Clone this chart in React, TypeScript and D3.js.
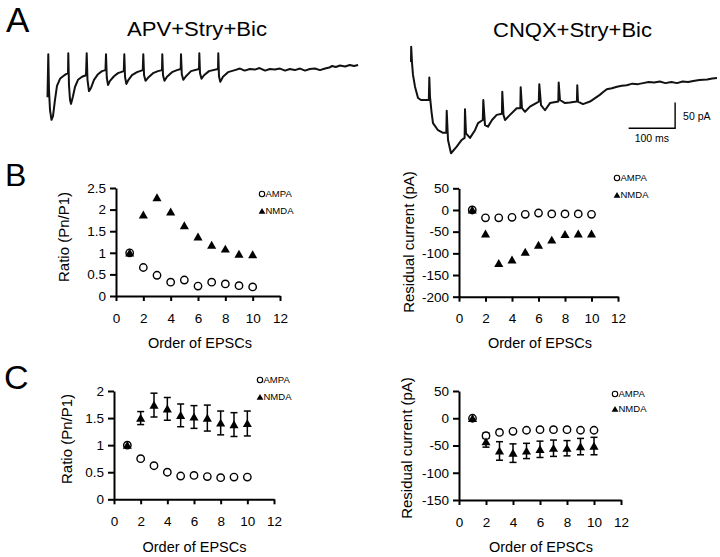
import React, { Component, createRef } from 'react';
import * as d3 from 'd3';

const FONT = '"Liberation Sans", Arial, Helvetica, sans-serif';

// order of EPSCs in the train
const epscOrder = [1, 2, 3, 4, 5, 6, 7, 8, 9, 10];
const xTicks = [0, 2, 4, 6, 8, 10, 12];
const ratioTicksB = [0, 0.5, 1, 1.5, 2, 2.5];
const currentTicksB = [-200, -150, -100, -50, 0, 50];
const ratioTicksC = [0, 0.5, 1, 1.5, 2];
const currentTicksC = [-150, -100, -50, 0, 50];

// B: example cell
const ratioAmpaB = [1.0, 0.66, 0.48, 0.32, 0.37, 0.23, 0.32, 0.28, 0.24, 0.21];
const ratioNmdaB = [1.0, 1.88, 2.28, 1.95, 1.63, 1.37, 1.18, 1.09, 0.97, 0.96];
const residAmpaB = [0, -18, -18, -17, -10, -7, -9, -9, -9, -10];
const residNmdaB = [0, -55, -123, -115, -97, -81, -69, -56, -55, -55];

// C: mean +/- SEM
const ratioAmpaC = [1.0, 0.75, 0.62, 0.5, 0.43, 0.44, 0.42, 0.4, 0.41, 0.41];
const ratioNmdaC = [1.0, 1.5, 1.74, 1.67, 1.55, 1.52, 1.5, 1.41, 1.38, 1.4];
const ratioNmdaCErr = [0, 0.12, 0.22, 0.21, 0.21, 0.21, 0.24, 0.22, 0.22, 0.23];
const residAmpaC = [0, -32, -26, -24, -22, -21, -21, -21, -22, -22];
const residAmpaCErr = [0, 5, 0, 0, 0, 0, 0, 0, 0, 0];
const residNmdaC = [0, -43, -60, -64, -60, -57, -55, -55, -52, -51];
const residNmdaCErr = [0, 10, 17, 17, 14, 15, 15, 14, 15, 16];

// A: traces, time (ms) and current (pA)
const apvTraceMs = [
  0, 1.7, 3.2, 5.4, 8.6, 11.8, 16.1, 20.4, 26.9, 33.3, 39.8, 44.1,
  44.7, 46.2, 48.4, 50.5, 54.8, 59.1, 65.6, 74.2, 82.8,
  84.3, 86, 89.2, 93.5, 100, 108.6, 117.2, 124.7,
  125.8, 127.5, 130.1, 134.4, 143, 151.6, 164.1,
  165.2, 166.7, 169.5, 174.2, 181.7, 192.5, 204.9,
  206, 207.7, 210.8, 216.1, 226.9, 237.6, 246.2,
  246.9, 248.4, 251.6, 257, 267.7, 278.5, 286.5,
  287.1, 288.8, 292, 297.8, 308.6, 325.8,
  326.5, 328, 331.2, 336.6, 347.3, 366.7,
  367.3, 368.8, 371.6, 377.4, 388.2, 403, 414, 424, 435, 446, 456, 468, 478,
  489, 500, 511, 521, 532, 543, 554, 564, 575, 586, 597, 606, 612, 620, 629,
  640, 650, 659, 668
];
const apvTracePa = [
  -61, 23, -47, -86, -105, -98, -66, -39, -25, -20, -16, -14,
  25, -37, -66, -74, -59, -41, -27, -21, -18,
  25, -27, -49, -43, -27, -16, -10, -8,
  23, -23, -37, -29, -20, -14, -10,
  23, -21, -35, -27, -18, -12, -8,
  23, -18, -29, -23, -14, -10, -8,
  23, -18, -29, -21, -12, -8, -6,
  23, -16, -27, -20, -10, -6,
  25, -14, -25, -18, -10, -6,
  25, -20, -31, -21, -12, -8, -5, -9, -6, -7, -4, -9, -6,
  -7, -5, -9, -6, -8, -5, -9, -6, -5, -8, -5, -3, 0, -2, 1,
  -1, 2, 0, 2
];
const cnqxTraceMs = [
  0, 0.4, 2.2, 4.3, 8.6, 15.1, 21.5, 30.1, 38.3,
  39.4, 40.9, 44.1, 47.3, 58.1, 68.8, 75.9,
  76.8, 79.6, 86, 98.3, 109, 115.3,
  116.1, 118.3, 126.9, 137.6, 144.1, 154.4,
  155.5, 159.1, 165.6, 174.2, 184.3, 195.5,
  196.3, 198.9, 202.2, 212.9, 227.3, 235.1,
  235.9, 238.7, 245.2, 255.9, 274.8,
  275.9, 279.6, 288.2, 298.9, 316.8,
  317.6, 320.4, 331.2, 341.9, 356.8,
  357.6, 359.1, 369.9, 384.9, 406, 414, 421, 432, 443, 453, 464, 476,
  488, 499, 511, 523, 535, 547, 560, 572, 584, 596, 607, 620, 637, 648, 658
];
const cnqxTracePa = [
  31, 61, 29, 6, -17, -39, -43, -43, -43,
  1, -37, -66, -88, -102, -107, -107,
  -64, -121, -147, -134, -121, -117,
  -61, -108, -117, -102, -88, -82,
  -43, -92, -95, -82, -72, -70,
  -27, -72, -82, -72, -59, -59,
  -18, -59, -66, -56, -46,
  -12, -53, -63, -49, -46,
  -9, -43, -49, -48, -46,
  -14, -46, -51, -46, -33, -27, -22, -20, -17, -15, -14, -11,
  -12, -10, -8, -9, -7, -10, -8, -10, -7, -8, -6, -4, -3, -1, 0
];
const scaleBarMs = 100;
const scaleBarPa = 50;
const scaleBarCornerMs = 568;
const scaleBarCornerPa = -98;

interface IPanel {
  xRange: [number, number];
  yRange: [number, number];
  yDomain: [number, number];
  yTicks: number[];
  yLabel: string;
  yLabelPos: [number, number];
  xLabelPos: [number, number];
  legendPos: [number, number];
  legendGap: number;
  ampa: number[];
  ampaErr?: number[];
  nmda: number[];
  nmdaErr?: number[];
}

const panels: IPanel[] = [
  {
    xRange: [116, 280], yRange: [296, 188], yDomain: [0, 2.5], yTicks: ratioTicksB,
    yLabel: 'Ratio (Pn/P1)', yLabelPos: [69, 237], xLabelPos: [200, 348],
    legendPos: [262, 194], legendGap: 17, ampa: ratioAmpaB, nmda: ratioNmdaB
  },
  {
    xRange: [459, 618], yRange: [296.7, 188.3], yDomain: [-200, 50], yTicks: currentTicksB,
    yLabel: 'Residual current (pA)', yLabelPos: [413.5, 242], xLabelPos: [540, 348],
    legendPos: [617, 178], legendGap: 17, ampa: residAmpaB, nmda: residNmdaB
  },
  {
    xRange: [114, 274], yRange: [499.3, 391], yDomain: [0, 2], yTicks: ratioTicksC,
    yLabel: 'Ratio (Pn/P1)', yLabelPos: [72, 439], xLabelPos: [194.5, 552],
    legendPos: [260, 380], legendGap: 17, ampa: ratioAmpaC, nmda: ratioNmdaC, nmdaErr: ratioNmdaCErr
  },
  {
    xRange: [459, 621], yRange: [500, 391], yDomain: [-150, 50], yTicks: currentTicksC,
    yLabel: 'Residual current (pA)', yLabelPos: [412, 448], xLabelPos: [541, 552],
    legendPos: [615, 394], legendGap: 15, ampa: residAmpaC, ampaErr: residAmpaCErr,
    nmda: residNmdaC, nmdaErr: residNmdaCErr
  }
];

const MS_PX = 0.465;
const PA_PX = 0.512;

class App extends Component {
  svgRef = createRef<SVGSVGElement>();

  componentDidMount() {
    this.draw();
  }

  drawErrors(g: any, x: any, y: any, vals: number[], errs: number[]) {
    const bars = g.append('g').attr('stroke', '#000').attr('stroke-width', 1.5);
    vals.forEach((v, i) => {
      const e = errs[i];
      if (!e) { return; }
      const cx = x(epscOrder[i]);
      bars.append('line').attr('x1', cx).attr('x2', cx).attr('y1', y(v - e)).attr('y2', y(v + e));
      bars.append('line').attr('x1', cx - 3.5).attr('x2', cx + 3.5).attr('y1', y(v + e)).attr('y2', y(v + e));
      bars.append('line').attr('x1', cx - 3.5).attr('x2', cx + 3.5).attr('y1', y(v - e)).attr('y2', y(v - e));
    });
  }

  drawPanel(svg: any, p: IPanel) {
    const x = d3.scaleLinear().domain([0, 12]).range(p.xRange);
    const y = d3.scaleLinear().domain(p.yDomain).range(p.yRange);
    const g = svg.append('g');

    g.append('g')
      .attr('transform', `translate(0,${p.yRange[0]})`)
      .call(d3.axisBottom(x).tickValues(xTicks).tickSize(5).tickSizeOuter(0).tickPadding(12)
        .tickFormat((d: any) => String(d)));
    g.append('g')
      .attr('transform', `translate(${p.xRange[0]},0)`)
      .call(d3.axisLeft(y).tickValues(p.yTicks).tickSize(6).tickSizeOuter(0).tickPadding(4)
        .tickFormat((d: any) => String(d)));
    g.selectAll('.domain, .tick line').attr('stroke', '#000').attr('stroke-width', 2);
    g.selectAll('.tick text').attr('font-family', FONT).attr('font-size', 13.5).attr('fill', '#000');

    // axis titles
    g.append('text')
      .attr('transform', `translate(${p.yLabelPos[0]},${p.yLabelPos[1]}) rotate(-90)`)
      .attr('text-anchor', 'middle')
      .attr('font-family', FONT).attr('font-size', 15)
      .text(p.yLabel);
    g.append('text')
      .attr('x', p.xLabelPos[0]).attr('y', p.xLabelPos[1])
      .attr('text-anchor', 'middle')
      .attr('font-family', FONT).attr('font-size', 14.5)
      .text('Order of EPSCs');

    if (p.ampaErr) { this.drawErrors(g, x, y, p.ampa, p.ampaErr); }
    if (p.nmdaErr) { this.drawErrors(g, x, y, p.nmda, p.nmdaErr); }

    g.append('g').selectAll('circle')
      .data(p.ampa)
      .join('circle')
      .attr('cx', (d: number, i: number) => x(epscOrder[i]))
      .attr('cy', (d: number) => y(d))
      .attr('r', 3.7)
      .attr('fill', '#fff')
      .attr('stroke', '#000')
      .attr('stroke-width', 1.4);

    const tri = d3.symbol().type(d3.symbolTriangle).size(36);
    g.append('g').selectAll('path')
      .data(p.nmda)
      .join('path')
      .attr('transform', (d: number, i: number) => `translate(${x(epscOrder[i])},${y(d) + 1})`)
      .attr('d', tri()!)
      .attr('fill', '#000');

    // legend
    const [lx, ly] = p.legendPos;
    g.append('circle').attr('cx', lx).attr('cy', ly).attr('r', 2.7)
      .attr('fill', '#fff').attr('stroke', '#000').attr('stroke-width', 1.1);
    g.append('path').attr('transform', `translate(${lx},${ly + p.legendGap + 0.8})`)
      .attr('d', d3.symbol().type(d3.symbolTriangle).size(20)()!).attr('fill', '#000');
    g.append('text').attr('x', lx + 3.5).attr('y', ly).attr('dy', '0.35em')
      .attr('font-family', FONT).attr('font-size', 9.5).text('AMPA');
    g.append('text').attr('x', lx + 3.5).attr('y', ly + p.legendGap).attr('dy', '0.35em')
      .attr('font-family', FONT).attr('font-size', 9.5).text('NMDA');
  }

  drawTrace(svg: any, ms: number[], pa: number[], ox: number, oy: number) {
    const x = d3.scaleLinear().domain([0, 700]).range([ox, ox + 700 * MS_PX]);
    const y = d3.scaleLinear().domain([-200, 100]).range([oy + 200 * PA_PX, oy - 100 * PA_PX]);
    const line = d3.line<number>()
      .x((d: number, i: number) => x(ms[i]))
      .y((d: number) => y(d));
    svg.append('path')
      .attr('d', line(pa)!)
      .attr('fill', 'none')
      .attr('stroke', '#111')
      .attr('stroke-width', 2)
      .attr('stroke-linejoin', 'round');
    return { x, y };
  }

  draw() {
    const svg = d3.select(this.svgRef.current);
    svg.selectAll('*').remove();
    svg.append('rect').attr('width', 720).attr('height', 557).attr('fill', '#fff');

    // panel letters
    const letters: [string, number, number, number][] = [['A', 6, 32, 35], ['B', 5, 186, 32], ['C', 4, 389, 34]];
    letters.forEach(([t, lx, ly, fs]) => {
      svg.append('text').attr('x', lx).attr('y', ly)
        .attr('font-family', FONT).attr('font-size', fs).text(t);
    });

    // trace titles
    svg.append('text').attr('x', 127).attr('y', 36)
      .attr('font-family', FONT).attr('font-size', 20)
      .attr('textLength', 140).attr('lengthAdjust', 'spacingAndGlyphs')
      .text('APV+Stry+Bic');
    svg.append('text').attr('x', 493).attr('y', 36.5)
      .attr('font-family', FONT).attr('font-size', 20)
      .attr('textLength', 159).attr('lengthAdjust', 'spacingAndGlyphs')
      .text('CNQX+Stry+Bic');

    this.drawTrace(svg, apvTraceMs, apvTracePa, 47.5, 66);
    const s = this.drawTrace(svg, cnqxTraceMs, cnqxTracePa, 411, 78);

    // scale bar
    const bx1 = s.x(scaleBarCornerMs);
    const bx0 = s.x(scaleBarCornerMs - scaleBarMs);
    const by0 = s.y(scaleBarCornerPa);
    const by1 = s.y(scaleBarCornerPa + scaleBarPa);
    svg.append('path')
      .attr('d', `M${bx0},${by0}H${bx1}V${by1}`)
      .attr('fill', 'none').attr('stroke', '#000').attr('stroke-width', 1.4);
    svg.append('text').attr('x', bx1 + 8).attr('y', (by0 + by1) / 2 + 5)
      .attr('font-family', FONT).attr('font-size', 10.5).text('50 pA');
    svg.append('text').attr('x', (bx0 + bx1) / 2).attr('y', by0 + 14)
      .attr('text-anchor', 'middle')
      .attr('font-family', FONT).attr('font-size', 10.5).text('100 ms');

    panels.forEach((p) => this.drawPanel(svg, p));
  }

  render() {
    return (
      <svg
        ref={this.svgRef}
        width={720}
        height={557}
        style={{ position: 'absolute', left: 0, top: 0 }}
      />
    );
  }
}

export default App;
